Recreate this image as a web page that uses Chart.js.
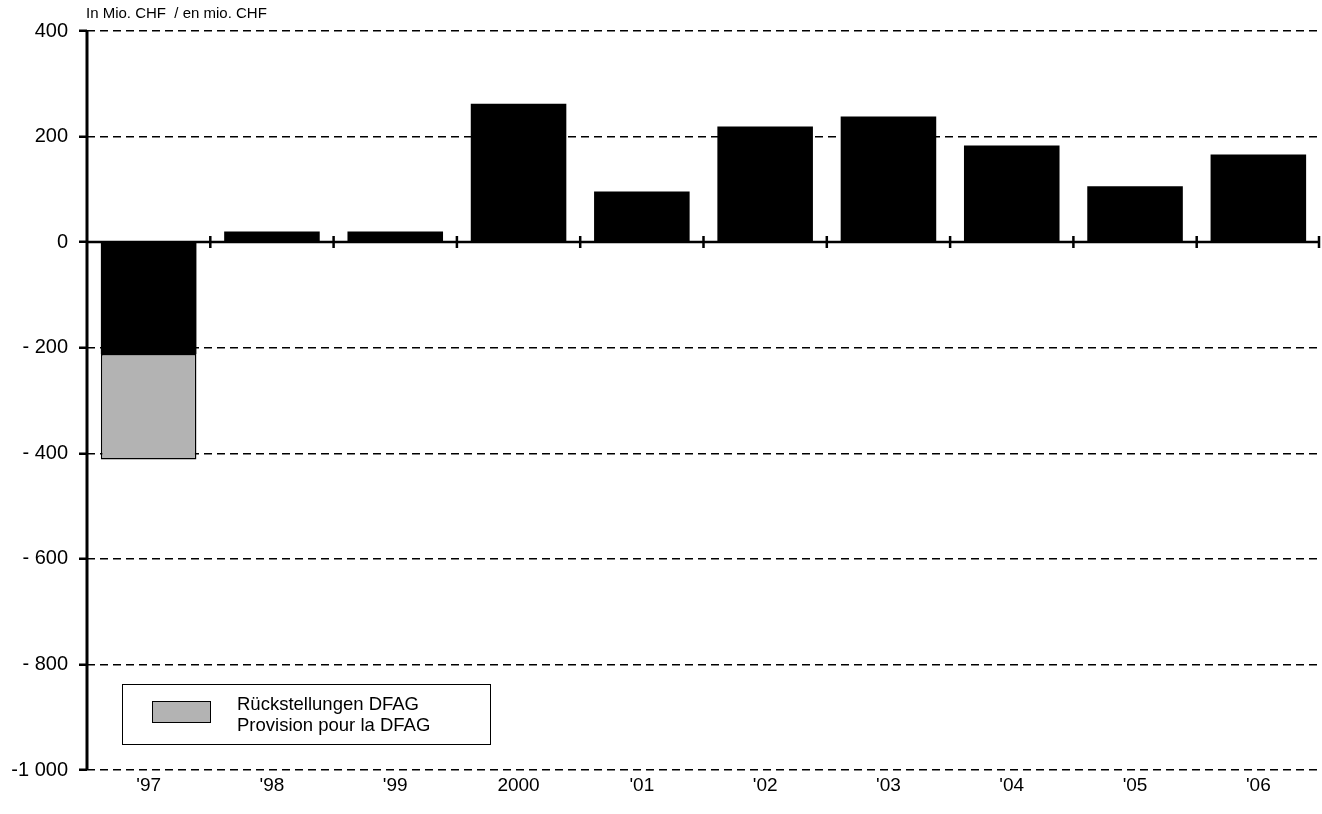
<!DOCTYPE html>
<html>
<head>
<meta charset="utf-8">
<script src="https://cdn.jsdelivr.net/npm/chart.js@4/dist/chart.umd.min.js"></script>
<style>
  html, body { margin: 0; padding: 0; background: #fff; }
  #wrap { width: 1322px; height: 814px; position: relative; }
</style>
</head>
<body>
<div id="wrap"><canvas id="c" width="1322" height="814"></canvas></div>
<script>
// Annual result, in million CHF
const years = ["'97", "'98", "'99", "2000", "'01", "'02", "'03", "'04", "'05", "'06"];
const result = [-212, 20, 20, 262, 96, 219, 238, 183, 106, 166];
// Provision for DFAG (1997 only)
const provision = [-200, null, null, null, null, null, null, null, null, null];
const provisionLabel = ["Rückstellungen DFAG", "Provision pour la DFAG"];
const unitLabel = "In Mio. CHF  / en mio. CHF";
const yTicks = [400, 200, 0, -200, -400, -600, -800, -1000];

const FONT = "'Liberation Sans', Arial, sans-serif";

function fmtTick(v) {
  if (v === 0) return "0";
  const abs = Math.abs(v);
  const s = abs >= 1000 ? Math.floor(abs / 1000) + " " + String(abs % 1000).padStart(3, "0") : String(abs);
  if (v < 0) return abs >= 1000 ? "-" + s : "- " + s;
  return s;
}

// Zero axis with crossing tick marks, left axis line, unit label and legend box
const decorations = {
  id: 'decorations',
  afterDatasetsDraw(chart) {
    const { ctx, chartArea, scales } = chart;
    const x = scales.x, y = scales.y;
    const y0 = Math.round(y.getPixelForValue(0));
    ctx.save();
    // zero line
    ctx.strokeStyle = '#000';
    ctx.lineWidth = 2.5;
    ctx.beginPath();
    ctx.moveTo(chartArea.left, y0);
    ctx.lineTo(chartArea.right, y0);
    ctx.stroke();
    // category boundary ticks
    ctx.lineWidth = 2.5;
    for (let i = 1; i <= years.length; i++) {
      const px = i < years.length
        ? (x.getPixelForValue(i - 1) + x.getPixelForValue(i)) / 2
        : x.getPixelForValue(i - 1) + (x.getPixelForValue(i - 1) - x.getPixelForValue(i - 2)) / 2 - 1;
      ctx.beginPath();
      ctx.moveTo(px, y0 - 6);
      ctx.lineTo(px, y0 + 6);
      ctx.stroke();
    }
    // left axis line
    ctx.lineWidth = 3;
    ctx.beginPath();
    ctx.moveTo(chartArea.left, y.getPixelForValue(400));
    ctx.lineTo(chartArea.left, y.getPixelForValue(-1000));
    ctx.stroke();
    // unit label
    ctx.fillStyle = '#000';
    ctx.font = "15px " + FONT;
    ctx.textBaseline = 'middle';
    ctx.textAlign = 'left';
    ctx.fillText(unitLabel, 86, 14);
    // legend
    const ds = chart.data.datasets[1];
    ctx.lineWidth = 1;
    ctx.strokeStyle = '#000';
    ctx.fillStyle = '#fff';
    ctx.fillRect(122.5, 684.5, 368, 60);
    ctx.strokeRect(122.5, 684.5, 368, 60);
    ctx.fillStyle = ds.backgroundColor;
    ctx.fillRect(152.5, 701.5, 58, 21);
    ctx.strokeRect(152.5, 701.5, 58, 21);
    ctx.fillStyle = '#000';
    ctx.font = "18.5px " + FONT;
    ctx.fillText(ds.label[0], 237, 705);
    ctx.fillText(ds.label[1], 237, 726);
    ctx.restore();
  }
};

new Chart(document.getElementById('c'), {
  type: 'bar',
  data: {
    labels: years,
    datasets: [
      { label: 'Ergebnis', data: result, backgroundColor: '#000', borderColor: '#000', borderWidth: 0 },
      { label: provisionLabel, data: provision, backgroundColor: '#b3b3b3', borderColor: '#000', borderWidth: 1.5, borderSkipped: false }
    ]
  },
  options: {
    responsive: false,
    animation: false,
    devicePixelRatio: 1,
    layout: { padding: { top: 31, right: 2, left: 0, bottom: 0 } },
    datasets: { bar: { categoryPercentage: 1, barPercentage: 0.775 } },
    plugins: { legend: { display: false }, tooltip: { enabled: false }, title: { display: false } },
    scales: {
      x: {
        stacked: true,
        grid: { display: false, drawTicks: false },
        border: { display: false },
        ticks: { color: '#000', font: { family: FONT, size: 19 }, padding: 4, maxRotation: 0 },
        afterFit(scale) { scale.height = 44; }
      },
      y: {
        stacked: true,
        min: -1000, max: 400,
        afterBuildTicks(scale) { scale.ticks = yTicks.map(v => ({ value: v })); },
        ticks: {
          color: '#000', font: { family: FONT, size: 20 }, padding: 11,
          callback: v => fmtTick(v)
        },
        grid: {
          color: ctx => (ctx.tick && ctx.tick.value === 0) ? 'rgba(0,0,0,0)' : '#000',
          lineWidth: 1.5,
          tickLength: 8,
          tickWidth: 2.5,
          tickColor: '#000',
          tickBorderDash: []
        },
        border: { display: false, dash: [8, 5] },
        afterFit(scale) { scale.width = 87; }
      }
    }
  },
  plugins: [decorations]
});
</script>
</body>
</html>
